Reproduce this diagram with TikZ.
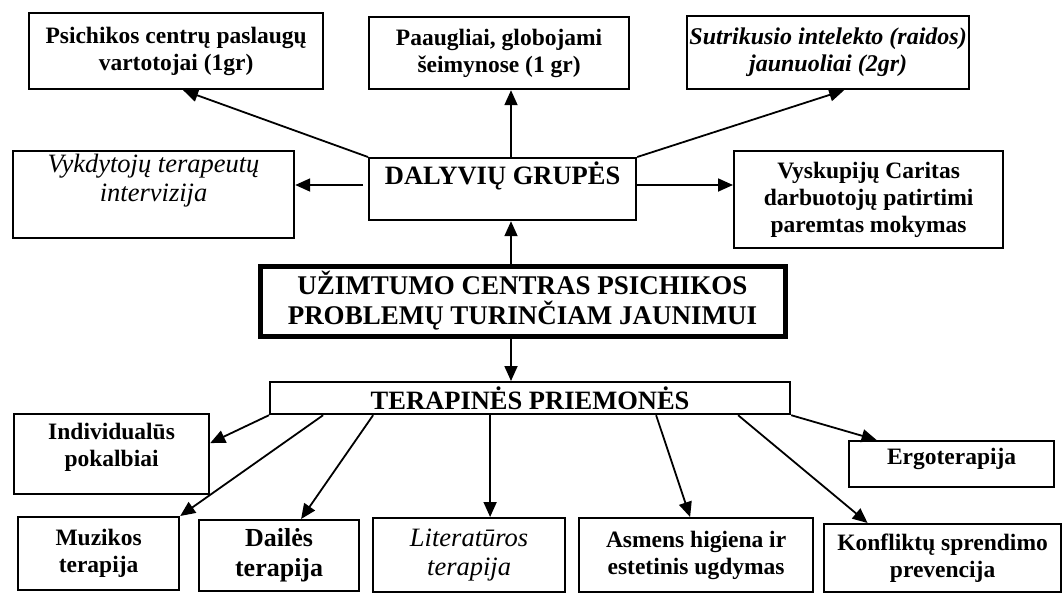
\documentclass[tikz,border=0pt]{standalone}
\usepackage{fontspec}
\setmainfont{Liberation Serif}
\usetikzlibrary{arrows.meta}
\tikzset{
  grpbox/.style={draw=black,line width=2.2pt,inner sep=0pt,align=center,anchor=north west,
    font=\bfseries\fontsize{23.5}{27}\selectfont},
  hubbox/.style={grpbox,line width=5pt,font=\bfseries\fontsize{27}{30}\selectfont},
  itbox/.style={grpbox,font=\itshape\fontsize{26.5}{29}\selectfont},
  bigbox/.style={grpbox,font=\bfseries\fontsize{26.5}{30}\selectfont},
  linkarr/.style={-{Triangle[length=15pt,width=13pt]},line width=1.8pt},
}
\begin{document}
\begin{tikzpicture}[x=1pt,y=-1pt]
  \useasboundingbox (0,0) rectangle (1062,592);
  % ---- participant groups ----
  \node[grpbox,minimum width=294pt,minimum height=76pt] (usr) at (28,12) {Psichikos centrų paslaugų\\vartotojai (1gr)};
  \node[grpbox,minimum width=260pt,minimum height=72pt] (teen) at (368,16) {Paaugliai, globojami\\šeimynose (1 gr)};
  \node[grpbox,font=\bfseries\itshape\fontsize{24}{27}\selectfont,minimum width=282pt,minimum height=73pt] (intel) at (686,15) {Sutrikusio intelekto (raidos)\\jaunuoliai (2gr)};
  \node[itbox,minimum width=281pt,minimum height=87pt,text height=50pt,text depth=37pt] (vyk) at (12,150) {Vykdytojų terapeutų\\intervizija};
  \node[bigbox,minimum width=267pt,minimum height=62pt,text height=26pt,text depth=36pt] (dal) at (368,157) {DALYVIŲ GRUPĖS};
  \node[grpbox,minimum width=269pt,minimum height=97pt] (car) at (733,150) {Vyskupijų Caritas\\darbuotojų patirtimi\\paremtas mokymas};
  % ---- centre and means ----
  \node[hubbox,minimum width=525pt,minimum height=70pt] (hub) at (257.5,263.5) {UŽIMTUMO CENTRAS PSICHIKOS\\PROBLEMŲ TURINČIAM JAUNIMUI};
  \node[bigbox,minimum width=520pt,minimum height=32pt] (ter) at (269,381) {TERAPINĖS PRIEMONĖS};
  % ---- therapies ----
  \node[grpbox,minimum width=195pt,minimum height=80pt,text height=52pt,text depth=28pt] (ind) at (13,413) {Individualūs\\pokalbiai};
  \node[grpbox,minimum width=161pt,minimum height=73pt] (muz) at (17,516) {Muzikos\\terapija};
  \node[grpbox,font=\bfseries\fontsize{26}{30}\selectfont,minimum width=160pt,minimum height=71pt] (dai) at (198,519) {Dailės\\terapija};
  \node[itbox,minimum width=192pt,minimum height=74pt] (lit) at (372,517) {Literatūros\\terapija};
  \node[grpbox,minimum width=234pt,minimum height=74pt] (asm) at (578,517) {Asmens higiena ir\\estetinis ugdymas};
  \node[grpbox,minimum width=237pt,minimum height=68pt] (kon) at (823,523) {Konfliktų sprendimo\\prevencija};
  \node[grpbox,minimum width=205pt,minimum height=46pt,text height=23pt,text depth=23pt] (erg) at (848,440) {Ergoterapija};
  % ---- connectors ----
  \coordinate (vx) at (511,0);
  \coordinate (hy) at (0,185);
  \draw[linkarr] (dal.north west) -- ([xshift=7pt]usr.south);
  \draw[linkarr] (dal.north -| vx) -- (teen.south -| vx);
  \draw[linkarr] (dal.north east) -- ([xshift=16pt]intel.south);
  \draw[linkarr] ([xshift=-5pt]dal.west |- hy) -- (vyk.east |- hy);
  \draw[linkarr] (dal.east |- hy) -- (car.west |- hy);
  \draw[linkarr] (hub.north -| vx) -- (dal.south -| vx);
  \draw[linkarr] (hub.south -| vx) -- (ter.north -| vx);
  \draw[linkarr] (ter.south west) -- ([yshift=11pt]ind.east);
  \draw[linkarr] ([xshift=-207pt]ter.south) -- (muz.north east);
  \draw[linkarr] ([xshift=-157pt]ter.south) -- ([xshift=22pt]dai.north);
  \draw[linkarr] ([xshift=-40pt]ter.south) -- ([xshift=21pt]lit.north);
  \draw[linkarr] ([xshift=126pt]ter.south) -- ([xshift=-6pt]asm.north);
  \draw[linkarr] ([xshift=208pt]ter.south) -- ([xshift=-75pt]kon.north);
  \draw[linkarr] (ter.south east) -- ([xshift=-75pt]erg.north);
\end{tikzpicture}
\end{document}
